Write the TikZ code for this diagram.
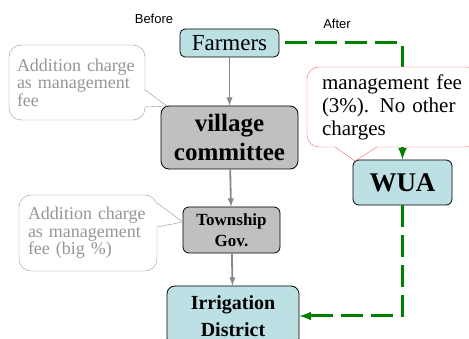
\documentclass[tikz,border=0pt]{standalone}
\usepackage{fontspec}
\setmainfont{Liberation Serif}
\setsansfont{Liberation Sans}
\definecolor{boxblue}{RGB}{188,224,228}
\definecolor{boxgray}{RGB}{192,192,192}
\definecolor{flowgreen}{RGB}{0,128,0}
\definecolor{notegray}{RGB}{150,150,150}
\definecolor{notered}{RGB}{255,100,100}
\definecolor{arrowgray}{RGB}{136,136,136}
\begin{document}
\begin{tikzpicture}[x=1pt,y=-1pt]
		\tikzset{box/.style = {draw,line width=0.8pt,rounded corners=5pt,align=center,inner sep=0pt}}
		\tikzset{note/.style = {rectangle,draw=notegray,text=notegray,fill=white,rounded corners=12pt,align=left,inner sep=0pt,font=\fontsize{18}{17.5}\selectfont}}
		\tikzset{flow/.style = {->,>=latex,draw=flowgreen,line width=3pt,dash pattern=on 22pt off 8pt}}
		\tikzset{old/.style = {->,>=latex,draw=arrowgray,line width=1.8pt}}
		\useasboundingbox (0,0) rectangle (469,339);
		\node[font=\sffamily\fontsize{13}{15}\selectfont] (before) at (154,19) {Before};
		\node[font=\sffamily\fontsize{13}{15}\selectfont] (after) at (337,24) {After};
		\node[box,fill=boxblue,minimum width=99,minimum height=28,font=\fontsize{23}{24}\selectfont] (farmers) at (229.5,43) {Farmers};
		\node[box,fill=boxgray,rounded corners=8pt,minimum width=137,minimum height=63,font=\bfseries\fontsize{25}{29}\selectfont] (village) at (229.5,137.5) {village\\committee};
		\node[box,fill=boxgray,rounded corners=6pt,minimum width=97,minimum height=46,font=\bfseries\fontsize{17}{21}\selectfont] (township) at (231.5,230) {Township\\Gov.};
		\node[box,fill=boxblue,rounded corners=8pt,minimum width=132,minimum height=60,font=\bfseries\fontsize{20}{27}\selectfont] (irrigation) at (233,316) {Irrigation\\District};
		\node[box,fill=boxblue,rounded corners=6pt,minimum width=99,minimum height=45,font=\bfseries\fontsize{27}{29}\selectfont] (wua) at (402.5,182.5) {WUA};
		\draw[old] (farmers) -- (village);
		\draw[old] (village) -- (township);
		\draw[old] (township) -- (irrigation);
		\draw[flow,shorten <=6pt] (farmers) -| (wua);
		\draw[flow] (wua) |- (irrigation);
		% notes with their pointers
		\node[note,minimum width=136,minimum height=75,text width=120] (note1) at (77,82.5) {Addition charge\\as management\\fee};
		\fill[white] (143,90) -- (167,106) -- (143,107) -- cycle;
		\draw[notegray] (145,90) -- (167,106) -- (145,107);
		\node[note,minimum width=138,minimum height=76,text width=120] (note2) at (88,233) {Addition charge\\as management\\fee (big \%)};
		\fill[white] (155,203) -- (183,222) -- (155,227) -- cycle;
		\draw[notegray] (157,203) -- (183,222) -- (157,227);
		\node[note,draw=notered,text=black,minimum width=172,minimum height=80,text width=142,font=\fontsize{21}{23}\selectfont] (note3) at (393,107) {management fee\\(3\%). No other\\charges};
		\fill[white] (335,145) -- (355,161) -- (377,145) -- cycle;
		\draw[notered] (335,147) -- (355,161) -- (377,147);
	\end{tikzpicture}
\end{document}
